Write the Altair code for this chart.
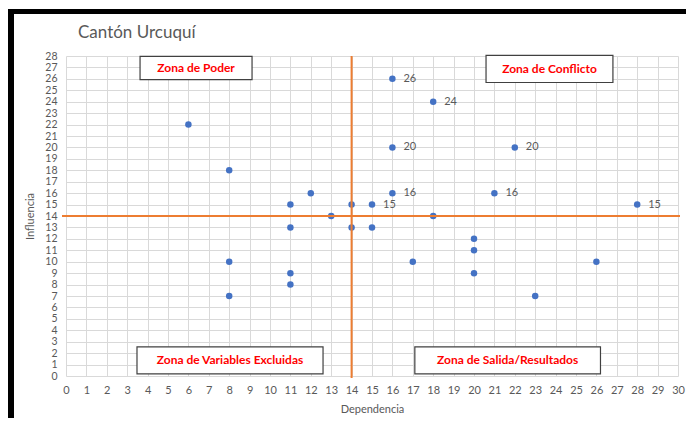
import altair as alt
import pandas as pd

# --- data ---
dependencia = [6, 8, 8, 8, 11, 11, 11, 11, 12, 13, 14, 14, 15, 15, 16, 16, 16, 18, 18, 17, 20, 20, 20, 21, 22, 23, 26, 28]
influencia = [22, 18, 10, 7, 15, 13, 9, 8, 16, 14, 15, 13, 15, 13, 26, 20, 16, 24, 14, 10, 12, 11, 9, 16, 20, 7, 10, 15]
etiquetas = ["", "", "", "", "", "", "", "", "", "", "", "", "15", "", "26", "20", "16", "24", "", "", "", "", "", "16", "20", "", "", "15"]

zonas = ["Zona de Poder", "Zona de Conflicto", "Zona de Variables Excluidas", "Zona de Salida/Resultados"]
zona_x = [3.63, 20.59, 3.48, 17.1]
zona_x2 = [9.12, 26.81, 12.6, 26.2]
zona_y = [25.94, 25.68, 0.18, 0.18]
zona_y2 = [27.97, 28.06, 2.55, 2.55]

corte_x = [14]
corte_y = [14]

x_ticks = list(range(0, 31))
y_ticks = list(range(0, 29))

df = pd.DataFrame({"Dependencia": dependencia, "Influencia": influencia, "label": etiquetas})
zdf = pd.DataFrame({"zona": zonas, "x": zona_x, "x2": zona_x2, "y": zona_y, "y2": zona_y2,
                    "xc": [(a + b) / 2 for a, b in zip(zona_x, zona_x2)],
                    "yc": [(a + b) / 2 for a, b in zip(zona_y, zona_y2)]})

W, H = 612, 320
FONT = "Lato"
GREY = "#595959"

xscale = alt.Scale(domain=[0, 30], nice=False, zero=True)
yscale = alt.Scale(domain=[0, 28], nice=False, zero=True)

xaxis = alt.Axis(values=x_ticks, tickCount=100, format="d", grid=True, gridColor="#d9d9d9",
                 domain=False, ticks=False,
                 labelColor=GREY, labelFont=FONT, labelFontSize=11, labelPadding=8,
                 labelOverlap=False, labelFlush=False,
                 title="Dependencia", titleColor=GREY, titleFont=FONT, titleFontSize=11,
                 titleFontWeight="normal", titlePadding=8)
yaxis = alt.Axis(values=y_ticks, tickCount=100, format="d", grid=True, gridColor="#d9d9d9",
                 domain=False, ticks=False,
                 labelColor=GREY, labelFont=FONT, labelFontSize=10.5, labelPadding=9,
                 labelOverlap=False, labelFlush=False,
                 title="Influencia", titleColor=GREY, titleFont=FONT, titleFontSize=11,
                 titleFontWeight="normal", titlePadding=9)

base = alt.Chart(df)

points = base.mark_circle(size=42, color="#4472C4", opacity=1).encode(
    x=alt.X("Dependencia:Q", scale=xscale, axis=xaxis),
    y=alt.Y("Influencia:Q", scale=yscale, axis=yaxis),
)

labels = base.mark_text(align="left", baseline="middle", dx=11, font=FONT, fontSize=11, color=GREY).encode(
    x=alt.X("Dependencia:Q", scale=xscale, axis=xaxis),
    y=alt.Y("Influencia:Q", scale=yscale, axis=yaxis),
    text="label:N",
)

hline = alt.Chart(pd.DataFrame({"v": corte_y})).mark_rule(color="#ED7D31", strokeWidth=2).encode(
    y=alt.Y("v:Q", scale=yscale, axis=yaxis), x=alt.value(-4), x2=alt.value(W + 2)
)
vline = alt.Chart(pd.DataFrame({"v": corte_x})).mark_rule(color="#ED7D31", strokeWidth=2).encode(
    x=alt.X("v:Q", scale=xscale, axis=xaxis), y=alt.value(0), y2=alt.value(H + 2)
)

boxes = alt.Chart(zdf).mark_rect(fill="white", stroke="#404040", strokeWidth=1.2).encode(
    x=alt.X("x:Q", scale=xscale, axis=xaxis), x2="x2:Q",
    y=alt.Y("y:Q", scale=yscale, axis=yaxis), y2="y2:Q",
)
box_text = alt.Chart(zdf).mark_text(font=FONT, fontSize=12, fontWeight="bold", color="#FF0000",
                                    baseline="middle", align="center").encode(
    x=alt.X("xc:Q", scale=xscale, axis=xaxis), y=alt.Y("yc:Q", scale=yscale, axis=yaxis), text="zona:N"
)

title = alt.Chart(pd.DataFrame({"t": ["Cantón Urcuquí"]})).mark_text(
    font=FONT, fontSize=17, color=GREY, align="left", baseline="middle"
).encode(x=alt.value(12), y=alt.value(-23), text="t:N")

frame_left = alt.Chart(pd.DataFrame({"a": [0]})).mark_rect(color="black").encode(
    x=alt.value(-58), x2=alt.value(-52), y=alt.value(-47), y2=alt.value(372)
)
frame_top = alt.Chart(pd.DataFrame({"a": [0]})).mark_rect(color="black").encode(
    x=alt.value(-58), x2=alt.value(W + 8), y=alt.value(-47), y2=alt.value(-42)
)

chart = alt.layer(points, hline, vline, labels, boxes, box_text, title, frame_left, frame_top).properties(
    width=W, height=H,
    autosize=alt.AutoSizeParams(type="none"),
    padding={"left": 58, "top": 48, "right": 8, "bottom": 42},
    background="white",
).configure_view(stroke=None)

chart.save("out.html", embed_options={"renderer": "svg", "actions": False})
